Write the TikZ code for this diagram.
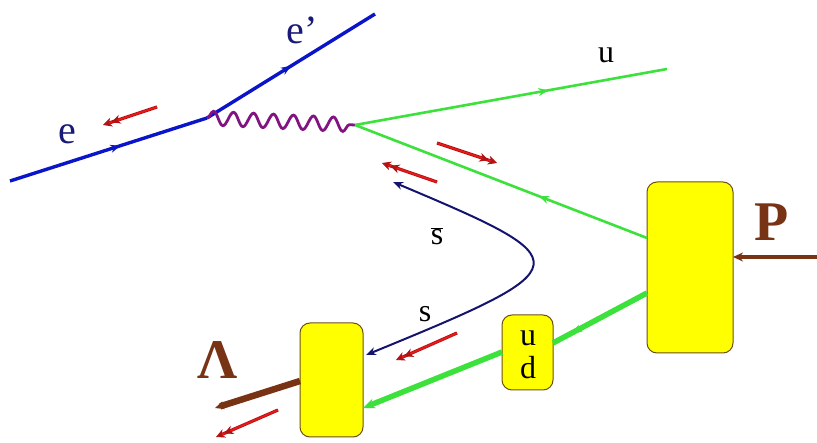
\documentclass[tikz,border=0pt]{standalone}
\usepackage{fontspec}
\setmainfont{Liberation Serif}
\usetikzlibrary{arrows.meta,decorations.pathmorphing,decorations.markings}
\definecolor{eblue}{RGB}{10,20,200}
\definecolor{enavy}{RGB}{25,25,120}
\definecolor{phot}{RGB}{130,20,130}
\definecolor{qgreen}{RGB}{60,225,60}
\definecolor{brn}{RGB}{120,50,20}
\definecolor{curvnavy}{RGB}{20,20,110}
\definecolor{boxfill}{RGB}{255,255,0}
\definecolor{boxline}{RGB}{110,80,20}
\definecolor{redarrcol}{RGB}{235,25,25}
\tikzset{
  hbox/.style={draw=boxline, fill=boxfill, line width=1pt, rounded corners=10pt, inner sep=0pt},
  eline/.style={draw=eblue, line width=3.4pt},
  qthin/.style={draw=qgreen, line width=2.6pt},
  qthick/.style={draw=qgreen, line width=5.5pt},
  photon/.style={draw=phot, line width=2.8pt, decorate, decoration={snake, amplitude=7pt, segment length=20pt}},
  midarr/.style={postaction={decorate}, decoration={markings, mark=at position #1 with {\arrow{Stealth[length=10pt,width=8pt]}}}},
  redarr/.style={draw=redarrcol!75!black, line width=0.8pt, double=redarrcol, double distance=1.6pt, -{Stealth[length=9pt,width=9pt]Stealth[length=9pt,width=9pt]}},
  lbl/.style={inner sep=0pt, font=\fontsize{40}{44}\selectfont},
  smlbl/.style={inner sep=0pt, font=\fontsize{32}{36}\selectfont},
  biglbl/.style={inner sep=0pt, text=brn, font=\fontsize{56}{60}\selectfont\bfseries}
}
\begin{document}
\begin{tikzpicture}[x=1pt,y=-1pt]
\useasboundingbox (0,0) rectangle (817,443);
% boxes
\node[hbox, minimum width=63pt, minimum height=114pt] (lam) at (331.5,380) {};
\node[hbox, minimum width=51pt, minimum height=75pt] (ud) at (527.5,352.5) {};
\node[hbox, minimum width=86pt, minimum height=171pt] (pbox) at (690,267.5) {};
% vertices and free ends
\coordinate (e0) at (10,181);
\coordinate (v1) at (207,118);
\coordinate (e1) at (375,14);
\coordinate (v2) at (355,125);
\coordinate (u1) at (667,69);
\coordinate (pq) at (647,238);
\coordinate (pd) at (647,293);
\coordinate (udin) at (553,343);
\coordinate (udout) at (502,352);
\coordinate (lamin) at (363,408);
\coordinate (sb) at (393,182);
\coordinate (sa) at (366,355);
\coordinate (pfar) at (817,257);
\coordinate (pend) at (733,257);
\coordinate (lamout) at (300,381);
\coordinate (lamend) at (215,408);
% electron lines
\draw[eline, midarr=0.56] (e0) -- (v1);
\draw[eline, midarr=0.5] (v1) -- (e1);
% photon
\draw[photon] (v1) -- (v2);
% struck quark lines
\draw[qthin, midarr=0.62] (v2) -- (u1);
\draw[qthin, midarr=0.37] (pq) -- (v2);
% spectator diquark lines
\draw[qthick, midarr=0.8] (pd) -- (udin);
\draw[qthick, -{Stealth[length=12pt,width=10pt]}] (udout) -- (lamin);
% s sbar curve
\draw[draw=curvnavy, line width=2pt, {Stealth[length=10pt,width=8pt]}-{Stealth[length=10pt,width=8pt]}]
  (sb) .. controls (583,262) and (583,266) .. (sa);
% proton and Lambda
\draw[draw=brn, line width=3.4pt, -{Stealth[length=10pt,width=9pt]}] (pfar) -- (pend);
\draw[draw=brn, line width=6.5pt, -{Stealth[length=9pt,width=8pt]}] (lamout) -- (lamend);
% red spin arrows
\coordinate (r1a) at (157,107); \coordinate (r1b) at (103,125);
\coordinate (r2a) at (437,143); \coordinate (r2b) at (497,163);
\coordinate (r3a) at (437,182); \coordinate (r3b) at (382,163);
\coordinate (r4a) at (457,333); \coordinate (r4b) at (396,360);
\coordinate (r5a) at (278,410); \coordinate (r5b) at (216,437);
\draw[redarr] (r1a) -- (r1b);
\draw[redarr] (r2a) -- (r2b);
\draw[redarr] (r3a) -- (r3b);
\draw[redarr] (r4a) -- (r4b);
\draw[redarr] (r5a) -- (r5b);
% labels
\node[lbl, text=enavy] (le) at (67,134) {e};
\node[lbl, text=enavy] (lep) at (302,30) {e’};
\node[smlbl] (lu) at (606,55) {u};
\node[smlbl] (lsb) at (437,236) {$\overline{\mbox{s}}$};
\node[smlbl] (ls) at (425,314) {s};
\node[smlbl] (lu2) at (528,338) {u};
\node[smlbl] (ld) at (528,368) {d};
\node[biglbl] (lP) at (772,222) {P};
\node[biglbl] (lL) at (218,360) {Λ};
\end{tikzpicture}
\end{document}
